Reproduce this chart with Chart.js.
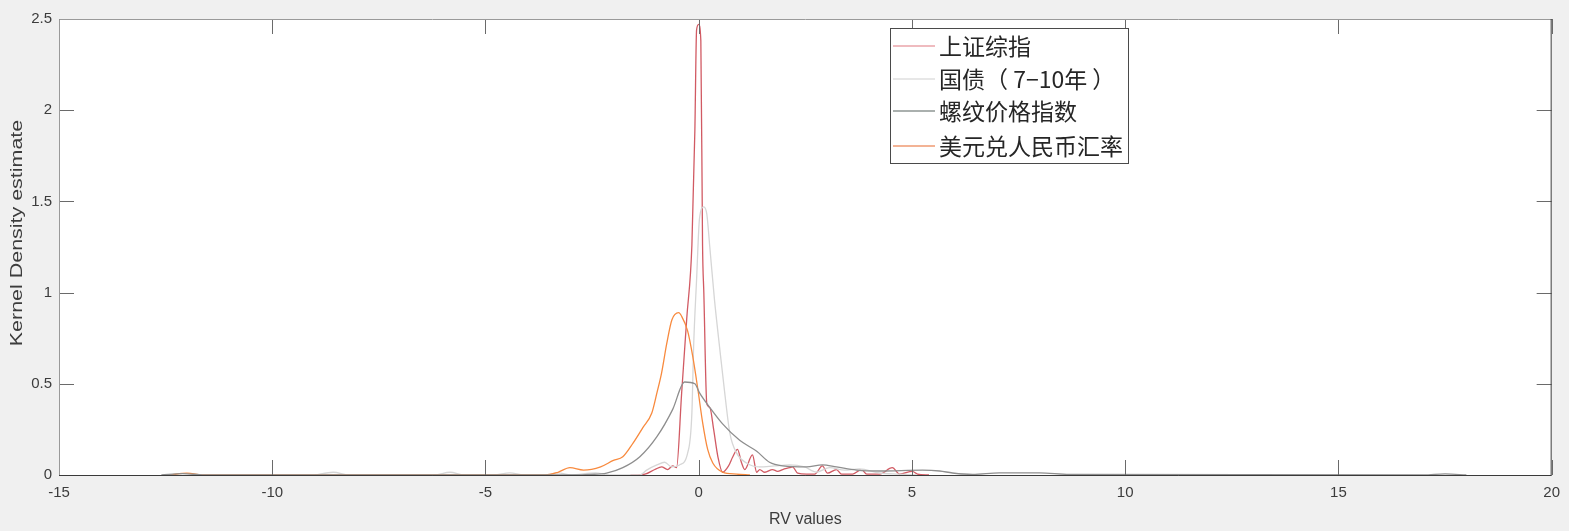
<!DOCTYPE html>
<html>
<head>
<meta charset="utf-8">
<script src="https://cdn.jsdelivr.net/npm/chart.js@4.4.1/dist/chart.umd.min.js"></script>
<style>
  html, body { margin: 0; padding: 0; background: #f0f0f0; }
  #wrap { width: 1569px; height: 531px; position: relative; }
</style>
</head>
<body>
<div id="wrap"><canvas id="kdeChart"></canvas></div>
<script>
const seriesNames = ["上证综指", "国债（ 7−10年 ）", "螺纹价格指数", "美元兑人民币汇率"];
const xTickValues = [-15, -10, -5, 0, 5, 10, 15, 20];
const yTickValues = [0, 0.5, 1, 1.5, 2, 2.5];
const xTitle = "RV values";
const yTitle = "Kernel Density estimate";

// 上证综指
const stockX = [-1.6, -1.26, -1.03, -0.87, -0.73, -0.61, -0.52, -0.40, -0.28, -0.16, -0.09, -0.05, 0, 0.05, 0.09, 0.12, 0.19, 0.26, 0.35, 0.45, 0.56, 0.70, 0.80, 0.91, 1.0, 1.08, 1.26, 1.36, 1.43, 1.55, 1.73, 1.85, 1.97, 2.13, 2.2, 2.32, 2.53, 2.72, 2.9, 3.02, 3.23, 3.35, 3.61, 3.82, 3.94, 4.24, 4.54, 4.71, 5.01, 5.13, 5.4];
const stockY = [0, 0.005, 0.03, 0.045, 0.03, 0.05, 0.04, 0.45, 0.86, 1.26, 1.89, 2.44, 2.47, 2.38, 1.26, 1.0, 0.39, 0.37, 0.25, 0.1, 0.015, 0.05, 0.1, 0.14, 0.07, 0.03, 0.11, 0.015, 0.03, 0.015, 0.03, 0.02, 0.03, 0.04, 0.045, 0.01, 0.005, 0.005, 0.05, 0.01, 0.03, 0.005, 0.005, 0.03, 0.005, 0.005, 0.04, 0.005, 0.02, 0.005, 0];

// 国债（7−10年）
const bondX = [-9.0, -8.57, -8.2, -6.2, -5.83, -5.5, -4.8, -4.43, -4.1, -3.6, -3.3, -3.0, -2.42, -2.1, -1.38, -1.22, -0.98, -0.80, -0.63, -0.45, -0.26, -0.16, -0.12, -0.05, 0.02, 0.12, 0.19, 0.26, 0.37, 0.49, 0.61, 0.73, 0.89, 1.12, 1.43, 1.78, 2.13, 2.48, 2.76, 3.07, 3.42, 3.77, 4.24, 4.71, 5.1];
const bondY = [0, 0.015, 0, 0, 0.015, 0, 0, 0.012, 0, 0, 0.012, 0, 0.012, 0, 0, 0.027, 0.055, 0.07, 0.044, 0.055, 0.12, 0.34, 0.70, 1.07, 1.41, 1.47, 1.43, 1.25, 0.96, 0.70, 0.45, 0.23, 0.12, 0.066, 0.044, 0.05, 0.055, 0.044, 0.016, 0.04, 0.027, 0.033, 0.011, 0.005, 0];

// 螺纹价格指数
const rebarX = [-12.6, -12.1, -11.6, -2.9, -2.55, -2.16, -1.78, -1.38, -0.98, -0.61, -0.33, -0.09, 0.02, 0.26, 0.56, 0.96, 1.36, 1.66, 1.97, 2.53, 2.90, 3.23, 3.70, 4.24, 5.25, 5.65, 5.95, 6.42, 7.05, 7.99, 8.69, 17.0, 17.5, 18.0];
const rebarY = [0, 0.008, 0, 0, 0.003, 0.01, 0.04, 0.1, 0.21, 0.36, 0.51, 0.50, 0.45, 0.37, 0.28, 0.19, 0.13, 0.07, 0.05, 0.044, 0.055, 0.044, 0.027, 0.022, 0.027, 0.022, 0.011, 0.003, 0.012, 0.012, 0.003, 0, 0.006, 0];

// 美元兑人民币汇率
const usdX = [-12.4, -12.0, -11.6, -3.6, -3.3, -3.02, -2.7, -2.3, -2.0, -1.78, -1.54, -1.31, -1.1, -0.98, -0.87, -0.75, -0.63, -0.47, -0.40, -0.26, -0.14, -0.02, 0.09, 0.21, 0.33, 0.56, 0.89, 1.2];
const usdY = [0, 0.01, 0, 0, 0.015, 0.04, 0.027, 0.045, 0.08, 0.1, 0.175, 0.26, 0.34, 0.45, 0.56, 0.72, 0.85, 0.89, 0.87, 0.79, 0.65, 0.47, 0.29, 0.14, 0.066, 0.016, 0.005, 0];

const lineColors = ["rgba(204,72,82,0.9)", "#d6d6d6", "#8e8e8e", "#f88a3e"];
const legendColors = ["#e07880", "#d0d0d0", "#56625f", "#e8682c"];
const textColor = "#3c3c3c";
const latinFont = "Liberation Sans, Arial, sans-serif";

function toPoints(xs, ys) {
    return xs.map((x, i) => ({ x: x, y: ys[i] }));
}

const frameAndLegend = {
    id: "frameAndLegend",
    beforeDraw(chart) {
        const { ctx, chartArea: a } = chart;
        ctx.save();
        ctx.fillStyle = "#ffffff";
        ctx.fillRect(a.left, a.top, a.right - a.left, a.bottom - a.top);
        ctx.restore();
    },
    afterDatasetsDraw(chart) {
        const { ctx, chartArea: a, scales } = chart;
        const tick = 15;
        ctx.save();
        ctx.lineWidth = 1;
        ctx.strokeStyle = "#6a6a6a";
        ctx.beginPath();
        xTickValues.forEach(v => {
            const px = Math.round(scales.x.getPixelForValue(v)) + 0.5;
            ctx.moveTo(px, a.bottom); ctx.lineTo(px, a.bottom - tick);
            ctx.moveTo(px, a.top); ctx.lineTo(px, a.top + tick);
        });
        yTickValues.forEach(v => {
            const py = Math.round(scales.y.getPixelForValue(v)) + 0.5;
            ctx.moveTo(a.left, py); ctx.lineTo(a.left + tick, py);
            ctx.moveTo(a.right, py); ctx.lineTo(a.right - tick, py);
        });
        ctx.stroke();

        // axes box
        ctx.strokeStyle = "#9a9a9a";
        ctx.beginPath();
        ctx.moveTo(a.left + 0.5, a.bottom); ctx.lineTo(a.left + 0.5, a.top + 0.5); ctx.lineTo(a.right, a.top + 0.5);
        ctx.stroke();
        ctx.strokeStyle = "#3a3a3a";
        ctx.beginPath();
        ctx.moveTo(a.left, a.bottom + 0.5); ctx.lineTo(a.right - 0.5, a.bottom + 0.5); ctx.lineTo(a.right - 0.5, a.top);
        ctx.stroke();

        // axis titles (the figure was stretched vertically, so the y title is longer)
        ctx.fillStyle = textColor;
        ctx.font = "16px " + latinFont;
        ctx.textAlign = "center";
        ctx.textBaseline = "top";
        ctx.fillText(xTitle, (a.left + a.right) / 2, 512);
        ctx.save();
        ctx.translate(18, 233);
        ctx.rotate(-Math.PI / 2);
        ctx.scale(1.34, 1);
        ctx.textBaseline = "middle";
        ctx.fillText(yTitle, 0, 0);
        ctx.restore();

        // legend box
        const lx = 890, ly = 28, lw = 238, lh = 135;
        ctx.fillStyle = "#ffffff";
        ctx.fillRect(lx, ly, lw, lh);
        ctx.strokeStyle = "#4a4a4a";
        ctx.strokeRect(lx + 0.5, ly + 0.5, lw, lh);
        ctx.font = '23px "Noto Sans CJK SC", sans-serif';
        ctx.textAlign = "left";
        ctx.textBaseline = "middle";
        const rowY = [46, 79, 111, 146];
        seriesNames.forEach((name, i) => {
            ctx.strokeStyle = legendColors[i];
            ctx.lineWidth = 1.2;
            ctx.beginPath();
            ctx.moveTo(893, rowY[i]); ctx.lineTo(935, rowY[i]);
            ctx.stroke();
            ctx.fillStyle = "#262626";
            ctx.fillText(name, 939, rowY[i]);
        });
        ctx.restore();
    }
};

const datasets = [
    toPoints(stockX, stockY),
    toPoints(bondX, bondY),
    toPoints(rebarX, rebarY),
    toPoints(usdX, usdY)
].map((pts, i) => ({
    label: seriesNames[i],
    data: pts,
    borderColor: lineColors[i],
    borderWidth: 1.3,
    pointRadius: 0,
    fill: false,
    cubicInterpolationMode: "monotone"
}));

// back-to-front order like the original (orange and greys under red)
const ordered = [datasets[2], datasets[3], datasets[1], datasets[0]];

new Chart(document.getElementById("kdeChart"), {
    type: "line",
    data: { datasets: ordered },
    options: {
        responsive: true,
        maintainAspectRatio: false,
        animation: false,
        layout: { padding: { left: 0, right: 13, top: 19, bottom: 0 } },
        plugins: {
            legend: { display: false },
            tooltip: { enabled: false }
        },
        scales: {
            x: {
                type: "linear",
                min: -15,
                max: 20,
                grid: { display: false, drawTicks: false },
                border: { display: false },
                afterBuildTicks: scale => { scale.ticks = xTickValues.map(v => ({ value: v })); },
                afterFit: scale => { scale.height = 56; },
                ticks: {
                    color: textColor,
                    padding: 9,
                    maxRotation: 0,
                    font: { family: latinFont, size: 15 },
                    callback: v => String(v)
                }
            },
            y: {
                type: "linear",
                min: 0,
                max: 2.5,
                grid: { display: false, drawTicks: false },
                border: { display: false },
                afterBuildTicks: scale => { scale.ticks = yTickValues.map(v => ({ value: v })); },
                afterFit: scale => { scale.width = 59; },
                ticks: {
                    color: textColor,
                    padding: 7,
                    font: { family: latinFont, size: 15 },
                    callback: v => String(v)
                }
            }
        }
    },
    plugins: [frameAndLegend]
});
</script>
</body>
</html>
